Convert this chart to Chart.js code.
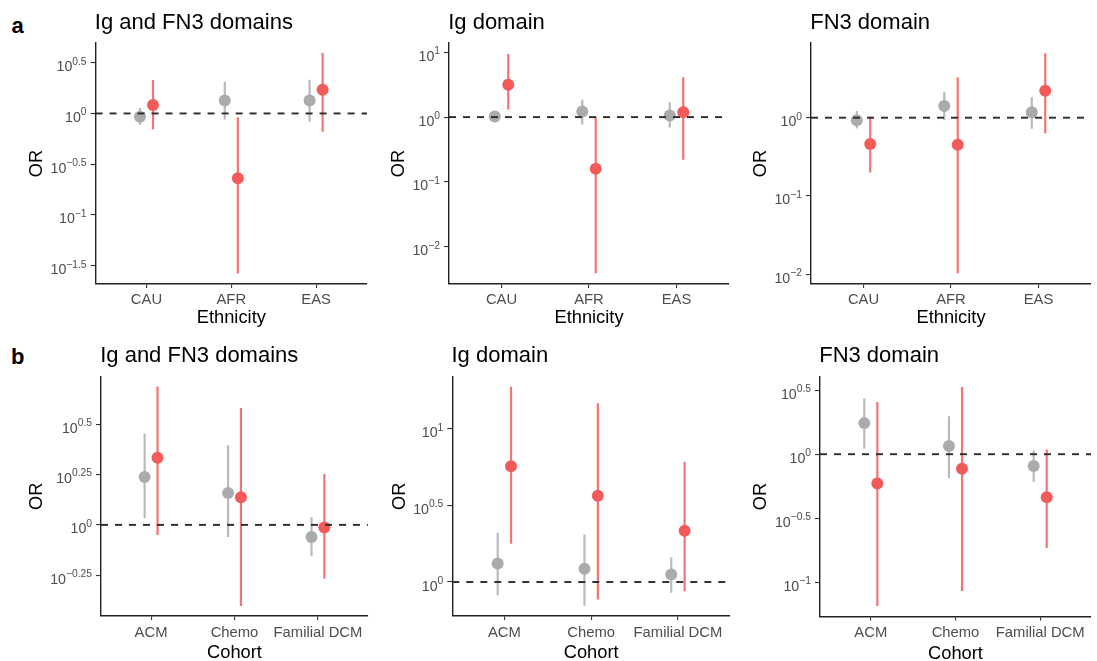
<!DOCTYPE html>
<html><head><meta charset="utf-8">
<script src="https://cdn.jsdelivr.net/npm/chart.js@4.4.1/dist/chart.umd.min.js"></script>
<style>
html,body{margin:0;padding:0;background:#fff;}
body{width:1097px;height:661px;position:relative;overflow:hidden;font-family:'Liberation Sans',Arial,Helvetica,sans-serif;}
canvas{position:absolute;}
.t{position:absolute;font-size:22px;line-height:1;color:#000;white-space:nowrap;}
.lab{position:absolute;font-size:22px;font-weight:bold;line-height:1;color:#000;}
</style></head><body>
<div class="lab" style="left:11.4px;top:14.6px">a</div>
<div class="lab" style="left:11px;top:346.4px">b</div>
<script>
// ---------- categories ----------
const ethnicities = ['CAU', 'AFR', 'EAS'];
const cohorts = ['ACM', 'Chemo', 'Familial DCM'];

// ---------- a: Ig and FN3 domains (by ethnicity) ----------
const a1GreyOR = [0.93, 1.34, 1.34];
const a1GreyLo = [0.77, 0.87, 0.83];
const a1GreyHi = [1.13, 2.05, 2.15];
const a1RedOR  = [1.21, 0.23, 1.71];
const a1RedLo  = [0.70, 0.0265, 0.66];
const a1RedHi  = [2.14, 0.92, 3.95];
const a1TickExp = [0.5, 0, -0.5, -1, -1.5];

// ---------- a: Ig domain ----------
const a2GreyOR = [1.02, 1.22, 1.06];
const a2GreyLo = [0.84, 0.77, 0.69];
const a2GreyHi = [1.22, 1.85, 1.70];
const a2RedOR  = [3.15, 0.16, 1.19];
const a2RedLo  = [1.31, 0.0039, 0.22];
const a2RedHi  = [9.4, 1.0, 4.12];
const a2TickExp = [1, 0, -1, -2];

// ---------- a: FN3 domain ----------
const a3GreyOR = [0.93, 1.41, 1.17];
const a3GreyLo = [0.73, 0.93, 0.72];
const a3GreyHi = [1.22, 2.15, 1.82];
const a3RedOR  = [0.46, 0.45, 2.21];
const a3RedLo  = [0.20, 0.0103, 0.63];
const a3RedHi  = [1.03, 3.28, 6.64];
const a3TickExp = [0, -1, -2];

// ---------- b: Ig and FN3 domains (by cohort) ----------
const b1GreyOR = [1.73, 1.44, 0.87];
const b1GreyLo = [1.08, 0.87, 0.70];
const b1GreyHi = [2.84, 2.48, 1.09];
const b1RedOR  = [2.15, 1.37, 0.97];
const b1RedLo  = [0.89, 0.396, 0.54];
const b1RedHi  = [4.86, 3.80, 1.79];
const b1TickExp = [0.5, 0.25, 0, -0.25];

// ---------- b: Ig domain ----------
const b2GreyOR = [1.32, 1.22, 1.12];
const b2GreyLo = [0.82, 0.70, 0.85];
const b2GreyHi = [2.10, 2.04, 1.45];
const b2RedOR  = [5.69, 3.66, 2.16];
const b2RedLo  = [1.78, 0.77, 0.87];
const b2RedHi  = [18.8, 14.7, 6.1];
const b2TickExp = [1, 0.5, 0];

// ---------- b: FN3 domain ----------
const b3GreyOR = [1.75, 1.16, 0.81];
const b3GreyLo = [1.11, 0.65, 0.61];
const b3GreyHi = [2.72, 1.98, 1.07];
const b3RedOR  = [0.59, 0.77, 0.46];
const b3RedLo  = [0.065, 0.085, 0.185];
const b3RedHi  = [2.56, 3.36, 1.09];
const b3TickExp = [0.5, 0, -0.5, -1];

const FONT = '"Liberation Sans", Arial, Helvetica, sans-serif';
const GREY_PT = '#ABABAB', GREY_BAR = '#BABABA';
const RED_PT = '#F35B5B', RED_BAR = '#F37474';
const DODGE = 0.077;

// layout: cell = canvas box in page px; plot = panel area in page px; yLim = log10 limits
const panels = [
  {title:'Ig and FN3 domains', cats:ethnicities, xTitle:'Ethnicity', tickExp:a1TickExp, yLim:[-1.68, 0.694],
   grey:[a1GreyOR,a1GreyLo,a1GreyHi], red:[a1RedOR,a1RedLo,a1RedHi],
   cell:[0,0,373,330], plot:[95.6,43,372.6,284], titleBase:29.8, tickPad:3, xTitleDy:39.3},
  {title:'Ig domain', cats:ethnicities, xTitle:'Ethnicity', tickExp:a2TickExp, yLim:[-2.574, 1.143],
   grey:[a2GreyOR,a2GreyLo,a2GreyHi], red:[a2RedOR,a2RedLo,a2RedHi],
   cell:[373,0,362,330], plot:[449,43,734,284], titleBase:29.8, tickPad:3, xTitleDy:39.3},
  {title:'FN3 domain', cats:ethnicities, xTitle:'Ethnicity', tickExp:a3TickExp, yLim:[-2.124, 0.954],
   grey:[a3GreyOR,a3GreyLo,a3GreyHi], red:[a3RedOR,a3RedLo,a3RedHi],
   cell:[735,0,362,330], plot:[811,43,1097,284], titleBase:29.8, tickPad:3, xTitleDy:39.3},
  {title:'Ig and FN3 domains', cats:cohorts, xTitle:'Cohort', tickExp:b1TickExp, yLim:[-0.452, 0.735],
   grey:[b1GreyOR,b1GreyLo,b1GreyHi], red:[b1RedOR,b1RedLo,b1RedHi],
   cell:[0,330,374,331], plot:[101,376.7,373,616], titleBase:363, tickPad:4, xTitleDy:42},
  {title:'Ig domain', cats:cohorts, xTitle:'Cohort', tickExp:b2TickExp, yLim:[-0.217, 1.34],
   grey:[b2GreyOR,b2GreyLo,b2GreyHi], red:[b2RedOR,b2RedLo,b2RedHi],
   cell:[374,330,362,331], plot:[452.3,376.7,735,616], titleBase:363, tickPad:4, xTitleDy:42},
  {title:'FN3 domain', cats:cohorts, xTitle:'Cohort', tickExp:b3TickExp, yLim:[-1.269, 0.606],
   grey:[b3GreyOR,b3GreyLo,b3GreyHi], red:[b3RedOR,b3RedLo,b3RedHi],
   cell:[736,330,361,331], plot:[820,376.7,1097,616.5], titleBase:363, tickPad:4, xTitleDy:42}
];

function expLabel(e){ return (e < 0 ? '\u2212' : '') + String(Math.abs(e)); }
function pts(vals, off){ return vals.map((v,i) => ({x:i+1+off, y:v})); }
function segs(lo, hi, off){
  const d = [];
  lo.forEach((l,i) => { const x = i+1+off; d.push({x, y:l}, {x, y:hi[i]}, {x, y:null}); });
  return d;
}

function labelPlugin(p){
  return {
    id:'customLabels',
    afterDraw(chart){
      const ctx = chart.ctx, ys = chart.scales.y, ca = chart.chartArea;
      ctx.save();
      ctx.fillStyle = '#4D4D4D';
      ctx.textAlign = 'left';
      ctx.textBaseline = 'alphabetic';
      let minLeft = Infinity;
      p.tickExp.forEach(e => {
        const py = ys.getPixelForValue(Math.pow(10, e));
        const sup = expLabel(e);
        ctx.font = '14.2px ' + FONT;
        const bw = ctx.measureText('10').width;
        ctx.font = '10.3px ' + FONT;
        const sw = ctx.measureText(sup).width;
        const left = ca.left - 9 - sw - bw;
        minLeft = Math.min(minLeft, left);
        ctx.font = '14.2px ' + FONT;
        ctx.fillText('10', left, py + 8.5);
        ctx.font = '10.3px ' + FONT;
        ctx.fillText(sup, left + bw, py + 2);
      });
      ctx.fillStyle = '#000';
      ctx.font = '18.3px ' + FONT;
      ctx.save();
      ctx.translate(minLeft - 8.5, (ca.top + ca.bottom) / 2);
      ctx.rotate(-Math.PI / 2);
      ctx.textAlign = 'center';
      ctx.fillText('OR', 0, 0);
      ctx.restore();
      ctx.textAlign = 'center';
      ctx.fillText(p.xTitle, (ca.left + ca.right) / 2, ca.bottom + p.xTitleDy);
      ctx.restore();
    }
  };
}

panels.forEach(p => {
  const [cx, cy, cw, ch] = p.cell;
  const [pl, pt, pr, pb] = p.plot;
  const cv = document.createElement('canvas');
  cv.width = cw; cv.height = ch;
  cv.style.left = cx + 'px'; cv.style.top = cy + 'px';
  cv.style.width = cw + 'px'; cv.style.height = ch + 'px';
  document.body.appendChild(cv);

  const t = document.createElement('div');
  t.className = 't';
  t.textContent = p.title;
  t.style.left = (pl - 0.8) + 'px';
  t.style.top = (p.titleBase - 0.8465 * 22) + 'px';
  document.body.appendChild(t);

  const yw = pl - cx, xh = (cy + ch) - pb;
  const axisGrid = {display:true, drawOnChartArea:false, drawTicks:true, color:'#333', lineWidth:1.1};
  const axisBorder = {display:true, color:'#222', width:1.4};

  new Chart(cv, {
    type:'line',
    data:{datasets:[
      {data:segs(p.grey[1], p.grey[2], -DODGE), showLine:true, borderColor:GREY_BAR, borderWidth:2.2, pointRadius:0, spanGaps:false, order:3},
      {data:segs(p.red[1], p.red[2], DODGE), showLine:true, borderColor:RED_BAR, borderWidth:2.2, pointRadius:0, spanGaps:false, order:3},
      {data:pts(p.grey[0], -DODGE), showLine:false, pointRadius:6, pointBackgroundColor:GREY_PT, pointBorderWidth:0, order:2},
      {data:pts(p.red[0], DODGE), showLine:false, pointRadius:6, pointBackgroundColor:RED_PT, pointBorderWidth:0, order:2},
      {data:[{x:0.4, y:1}, {x:3.6, y:1}], showLine:true, borderColor:'#2B2B2B', borderWidth:1.9, borderDash:[7,7], pointRadius:0, order:1}
    ]},
    options:{
      responsive:false, animation:false, devicePixelRatio:1,
      layout:{padding:{left:0, top:pt - cy, right:(cx + cw) - pr, bottom:0}},
      plugins:{legend:{display:false}, tooltip:{enabled:false}, title:{display:false}},
      scales:{
        x:{
          type:'linear', min:0.4, max:3.6,
          afterBuildTicks:s => { s.ticks = [1,2,3].map(v => ({value:v})); },
          afterFit:s => { s.height = xh; },
          ticks:{callback:v => p.cats[Math.round(v) - 1], font:{family:FONT, size:14.8}, color:'#4D4D4D', padding:p.tickPad, maxRotation:0, autoSkip:false},
          grid:Object.assign({tickLength:4}, axisGrid),
          border:axisBorder
        },
        y:{
          type:'logarithmic', min:Math.pow(10, p.yLim[0]), max:Math.pow(10, p.yLim[1]),
          afterBuildTicks:s => { s.ticks = p.tickExp.map(e => ({value:Math.pow(10, e)})); },
          afterFit:s => { s.width = yw; },
          ticks:{callback:() => '', autoSkip:false},
          grid:Object.assign({tickLength:5}, axisGrid),
          border:axisBorder
        }
      }
    },
    plugins:[labelPlugin(p)]
  });
});
</script>
</body></html>
